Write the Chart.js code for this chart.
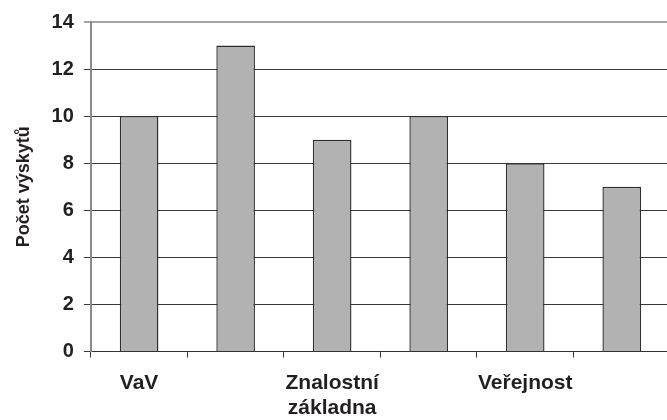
<!DOCTYPE html>
<html>
<head>
<meta charset="utf-8">
<script src="https://cdn.jsdelivr.net/npm/chart.js@4.4.1/dist/chart.umd.min.js"></script>
<style>
  html, body { margin: 0; padding: 0; background: #ffffff; overflow: hidden; }
  #wrap { width: 671px; height: 420px; overflow: hidden; }
</style>
</head>
<body>
<div id="wrap"><canvas id="c" width="671" height="420"></canvas></div>
<script>
const categories = ["VaV", "", ["Znalostní", "základna"], "", "Veřejnost", ""];
const values = [10, 13, 9, 10, 8, 7];
const yTicks = [0, 2, 4, 6, 8, 10, 12, 14];
const yTitle = "Počet výskytů";

const FONT = "'Liberation Sans', Arial, sans-serif";

new Chart(document.getElementById('c'), {
  type: 'bar',
  data: {
    labels: categories,
    datasets: [{
      data: values,
      backgroundColor: '#b2b2b2',
      borderColor: '#2e2e2e',
      borderWidth: 1.4,
      categoryPercentage: 1.0,
      barPercentage: 0.4
    }]
  },
  options: {
    responsive: false,
    animation: false,
    devicePixelRatio: 1,
    layout: { padding: { top: 21, left: 0, right: 1, bottom: -14 } },
    plugins: { legend: { display: false }, tooltip: { enabled: false } },
    scales: {
      x: {
        offset: true,
        grid: {
          display: true,
          drawOnChartArea: false,
          drawTicks: true,
          tickLength: 6,
          color: '#333333',
          lineWidth: 1,
          offset: true
        },
        border: { display: true, color: '#333333', width: 1 },
        ticks: {
          autoSkip: false,
          maxRotation: 0,
          minRotation: 0,
          padding: 13,
          color: '#231f20',
          font: { family: FONT, size: 21, weight: 'bold', lineHeight: 1.2 }
        }
      },
      y: {
        min: 0,
        max: 14,
        afterBuildTicks: (axis) => { axis.ticks = yTicks.map(v => ({ value: v })); },
        grid: {
          drawTicks: true,
          tickLength: 7,
          color: (ctx) => (ctx.tick && ctx.tick.value === 14) ? '#a6a6a6' : '#3a3a3a',
          lineWidth: (ctx) => (ctx.tick && ctx.tick.value === 14) ? 2 : 1
        },
        border: { display: true, color: '#8a8a8a', width: 2 },
        ticks: {
          padding: 10,
          color: '#231f20',
          font: { family: FONT, size: 20, weight: 'bold' }
        },
        title: {
          display: true,
          text: yTitle,
          color: '#231f20',
          font: { family: FONT, size: 18, weight: 'bold', lineHeight: 1.2 },
          padding: { top: 13, bottom: 7 }
        }
      }
    }
  }
});
</script>
</body>
</html>
